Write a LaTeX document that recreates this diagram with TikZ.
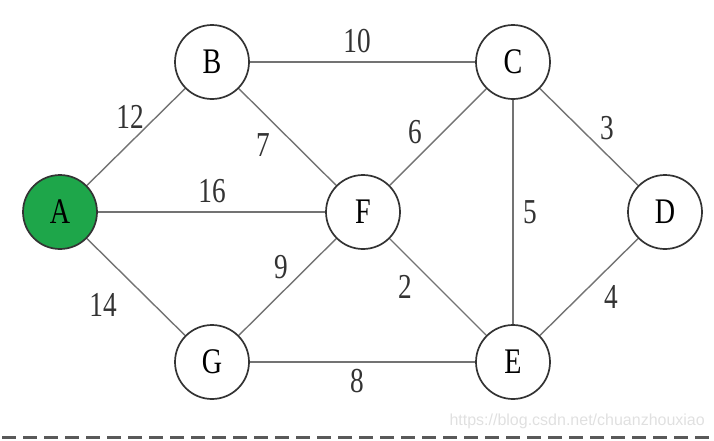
\documentclass[tikz,border=0pt]{standalone}
\usepackage{fontspec}
\setmainfont[FakeStretch=0.78]{Liberation Serif}
\newfontfamily\urlfont{Liberation Sans}
\usetikzlibrary{positioning}
\definecolor{startgreen}{RGB}{30,166,74}
\pgfdeclarelayer{nodelayer}
\pgfdeclarelayer{edgelayer}
\pgfsetlayers{edgelayer,nodelayer,main}
\tikzstyle{vertex}=[shape=circle, draw=black!80, line width=1.7pt, fill=white, minimum size=74pt, inner sep=0pt, font=\fontsize{36}{36}\selectfont]
\tikzstyle{start}=[vertex, fill=startgreen]
\tikzstyle{weight}=[inner sep=0pt, font=\fontsize{35}{35}\selectfont, text=black!80]
\tikzstyle{road}=[draw=black!55, line width=1.4pt]

\begin{document}
\begin{tikzpicture}[x=1pt, y=-1pt]
    \useasboundingbox (0,0) rectangle (714,440);
    \begin{pgfonlayer}{nodelayer}
        \node [style=start] (A) at (60, 212) {A};
        \node [style=vertex] (B) at (212, 62) {B};
        \node [style=vertex] (C) at (513, 62) {C};
        \node [style=vertex] (D) at (665, 212) {D};
        \node [style=vertex] (F) at (363, 212) {F};
        \node [style=vertex] (G) at (212, 362) {G};
        \node [style=vertex] (E) at (513, 362) {E};
        \node [style=weight] (wAB) at (130, 117) {12};
        \node [style=weight] (wBC) at (357, 41) {10};
        \node [style=weight] (wBF) at (263, 145) {7};
        \node [style=weight] (wCF) at (415, 132) {6};
        \node [style=weight] (wCD) at (607, 128) {3};
        \node [style=weight] (wAF) at (212, 191) {16};
        \node [style=weight] (wCE) at (530, 212) {5};
        \node [style=weight] (wFG) at (281, 267) {9};
        \node [style=weight] (wFE) at (405, 287) {2};
        \node [style=weight] (wAG) at (103, 305) {14};
        \node [style=weight] (wDE) at (611, 297) {4};
        \node [style=weight] (wGE) at (357, 381) {8};
        \node [anchor=east, inner sep=0pt, text=black!12, font=\urlfont\fontsize{16}{16}\selectfont] (url) at (705, 421) {https://blog.csdn.net/chuanzhouxiao};
    \end{pgfonlayer}
    \begin{pgfonlayer}{edgelayer}
        \draw [style=road] (A) to (B);
        \draw [style=road] (A) to (F);
        \draw [style=road] (A) to (G);
        \draw [style=road] (B) to (C);
        \draw [style=road] (B) to (F);
        \draw [style=road] (C) to (F);
        \draw [style=road] (C) to (D);
        \draw [style=road] (C) to (E);
        \draw [style=road] (F) to (G);
        \draw [style=road] (F) to (E);
        \draw [style=road] (G) to (E);
        \draw [style=road] (D) to (E);
        \coordinate (cutL) at (2, 437);
        \coordinate (cutR) at (714, 437);
        \draw [draw=black!65, line width=3pt, dash pattern=on 14pt off 7pt] (cutL) to (cutR);
    \end{pgfonlayer}
\end{tikzpicture}
\end{document}
